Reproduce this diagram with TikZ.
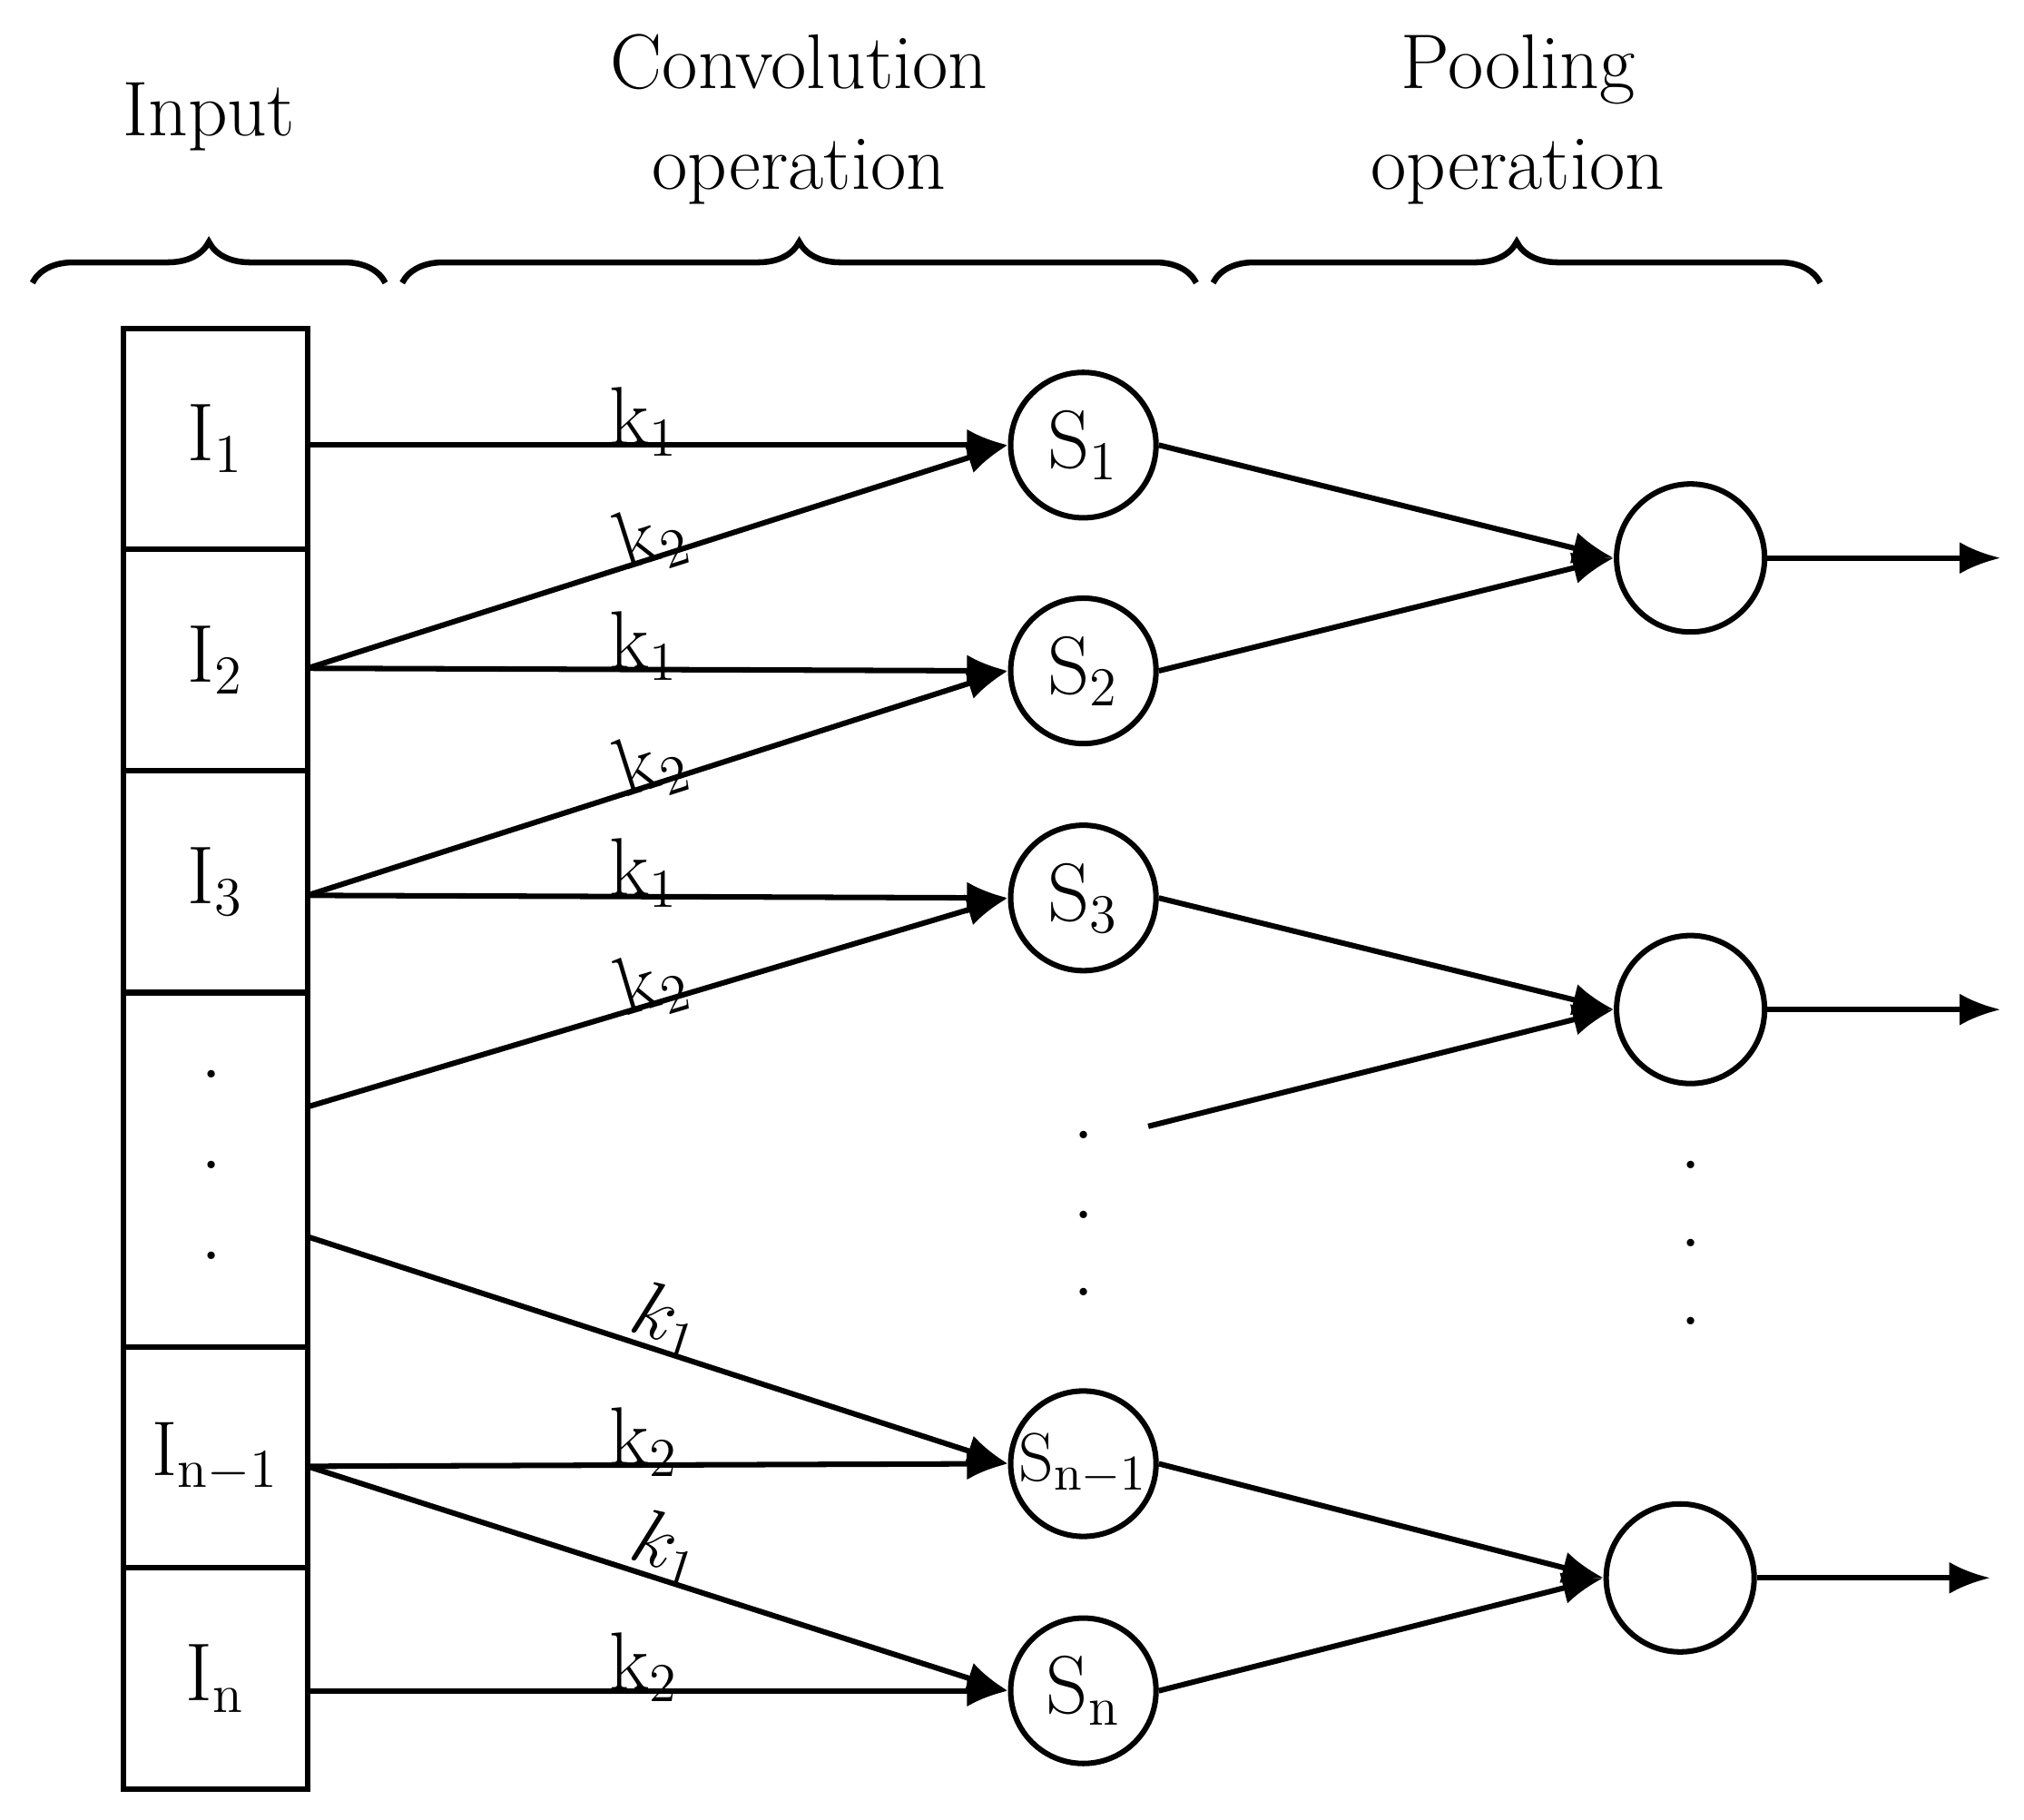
\documentclass[tikz,border=0pt]{standalone}
\usetikzlibrary{decorations.pathreplacing,arrows.meta}
\begin{document}
\begin{tikzpicture}[x=0.01cm,y=-0.01cm,
  txt/.style={font=\fontsize{18}{24}\selectfont},
  ttl/.style={font=\fontsize{17}{22}\selectfont},
  cell/.style={draw,line width=1.2pt,minimum width=1.42cm,inner sep=0pt},
  sn/.style={draw,circle,line width=1.2pt,minimum size=1.12cm,inner sep=0pt,font=\fontsize{18}{24}\selectfont},
  pn/.style={draw,circle,line width=1.2pt,minimum size=1.14cm,inner sep=0pt},
  ar/.style={line width=1.2pt,-{Latex[length=9pt,width=7pt]}},
  br/.style={line width=1.3pt,decorate,decoration={brace,amplitude=9pt}},
  kl/.style={font=\fontsize{18}{24}\selectfont,inner sep=1pt},
  dt/.style={font=\fontsize{20}{24}\selectfont}]
\useasboundingbox (0,0) rectangle (1560,1402);
% braces
\draw[br] (25,218) -- (297,218);
\draw[br] (310,218) -- (922,218);
\draw[br] (935,218) -- (1403,218);
\node[ttl] (tin) at (161,90) {Input};
\node[ttl,align=center] (tconv) at (616,92) {Convolution\\operation};
\node[ttl,align=center] (tpool) at (1170,92) {Pooling\\operation};
% input cells
\node[cell,minimum height=1.70cm,txt] (c1) at (166,338) {I$_1$};
\node[cell,minimum height=1.71cm,txt] (c2) at (166,508.5) {I$_2$};
\node[cell,minimum height=1.71cm,txt] (c3) at (166,679.5) {I$_3$};
\node[cell,minimum height=2.73cm] (c4) at (166,901.5) {};
\node[cell,minimum height=1.70cm,font=\fontsize{17}{22}\selectfont] (c5) at (166,1123) {I$_{\mathrm{n-1}}$};
\node[cell,minimum height=1.71cm,txt] (c6) at (166,1293.5) {I$_\mathrm{n}$};
\node[dt] (d1) at (163,828) {.};
\node[dt] (d2) at (163,898) {.};
\node[dt] (d3) at (163,968) {.};
% S nodes
\node[sn] (s1) at (835,343) {S$_1$};
\node[sn] (s2) at (835,517) {S$_2$};
\node[sn] (s3) at (835,692) {S$_3$};
\node[sn,font=\fontsize{15}{20}\selectfont] (s4) at (835,1128) {S$_{\mathrm{n-1}}$};
\node[sn] (s5) at (835,1303) {S$_\mathrm{n}$};
\node[dt] (e1) at (835,875) {.};
\node[dt] (e2) at (835,936) {.};
\node[dt] (e3) at (835,996) {.};
% pools
\node[pn] (p1) at (1303,430) {};
\node[pn] (p2) at (1303,778) {};
\node[pn] (p3) at (1295,1216) {};
\node[dt] (f1) at (1303,898) {.};
\node[dt] (f2) at (1303,958) {.};
\node[dt] (f3) at (1303,1018) {.};
% anchor coordinates
\coordinate (a1) at (237,343);
\coordinate (a2) at (237,515);
\coordinate (a3) at (237,690);
\coordinate (a4) at (237,853);
\coordinate (a5) at (237,953);
\coordinate (a6) at (237,1130);
\coordinate (a7) at (237,1303);
\coordinate (fr) at (885,868);
\coordinate (o1) at (1542,430);
\coordinate (o2) at (1542,778);
\coordinate (o3) at (1534,1216);
% conv edges
\draw[ar] (a1) -- node[kl,pos=0.48,above=-4pt]{k$_1$} (s1.west);
\draw[ar] (a2) -- node[kl,pos=0.5,sloped,above=-5pt]{k$_2$} (s1.west);
\draw[ar] (a2) -- node[kl,pos=0.48,above=-4pt]{k$_1$} (s2.west);
\draw[ar] (a3) -- node[kl,pos=0.5,sloped,above=-5pt]{k$_2$} (s2.west);
\draw[ar] (a3) -- node[kl,pos=0.48,above=-4pt]{k$_1$} (s3.west);
\draw[ar] (a4) -- node[kl,pos=0.5,sloped,above=-5pt]{k$_2$} (s3.west);
\draw[ar] (a5) -- node[kl,pos=0.5,sloped,above=-2pt]{$k_1$} (s4.west);
\draw[ar] (a6) -- node[kl,pos=0.48,above=-4pt]{k$_2$} (s4.west);
\draw[ar] (a6) -- node[kl,pos=0.5,sloped,above=-2pt]{$k_1$} (s5.west);
\draw[ar] (a7) -- node[kl,pos=0.48,above=-4pt]{k$_2$} (s5.west);
% pooling edges
\draw[ar] (s1.east) -- (p1.west);
\draw[ar] (s2.east) -- (p1.west);
\draw[ar] (s3.east) -- (p2.west);
\draw[ar] (fr) -- (p2.west);
\draw[ar] (s4.east) -- (p3.west);
\draw[ar] (s5.east) -- (p3.west);
\draw[ar] (p1) -- (o1);
\draw[ar] (p2) -- (o2);
\draw[ar] (p3) -- (o3);
\end{tikzpicture}
\end{document}
